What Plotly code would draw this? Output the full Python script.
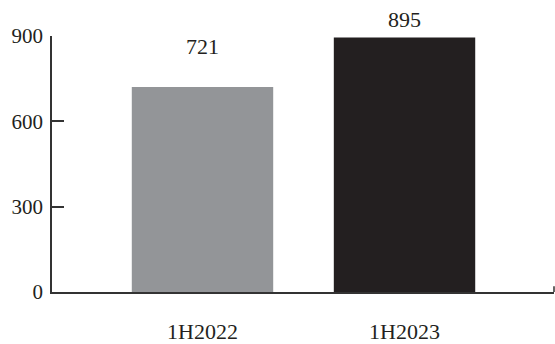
import plotly.graph_objects as go

# Half-year figures
periods = ["1H2022", "1H2023"]
values = [721, 895]
bar_colors = ["#939598", "#231f20"]
# vertical offset (px) of each value label above its bar
label_shift = [36, 13]
y_ticks = [0, 300, 600, 900]

axis_color = "#333333"
font_family = "Liberation Serif"

x_pos = list(range(len(periods)))

fig = go.Figure(
    go.Bar(
        x=x_pos,
        y=values,
        width=0.7,
        marker=dict(color=bar_colors, line=dict(width=0)),
        hoverinfo="skip",
    )
)

for xp, v, s in zip(x_pos, values, label_shift):
    fig.add_annotation(
        x=xp, y=v, text=str(v), showarrow=False,
        yanchor="bottom", yshift=s - 10,
        font=dict(family=font_family, size=22, color="#231f20"),
    )

x_range = [-0.745, 1.74]

# small upward tick closing the right end of the x axis
fig.add_shape(
    type="line", xref="paper", yref="paper",
    x0=1, x1=1, y0=0, y1=0.022,
    line=dict(color=axis_color, width=1.5),
)

fig.update_layout(
    width=555, height=344,
    margin=dict(l=52, r=1, t=36, b=52),
    paper_bgcolor="white", plot_bgcolor="white",
    showlegend=False,
    font=dict(family=font_family, size=22, color="#231f20"),
    xaxis=dict(
        range=x_range,
        tickvals=x_pos, ticktext=periods,
        ticks="", showgrid=False, zeroline=False,
        showline=True, linecolor=axis_color, linewidth=1.5,
        ticklabelstandoff=19, automargin=False,
        tickfont=dict(family=font_family, size=22, color="#231f20"),
    ),
    yaxis=dict(
        range=[0, 900],
        tickvals=y_ticks,
        ticks="inside", ticklen=12, tickwidth=1.5, tickcolor=axis_color,
        showgrid=False, zeroline=False,
        showline=True, linecolor=axis_color, linewidth=1.5,
        ticklabelstandoff=3, automargin=False,
        tickfont=dict(family=font_family, size=21, color="#231f20"),
    ),
)

fig.write_html("out.html")
